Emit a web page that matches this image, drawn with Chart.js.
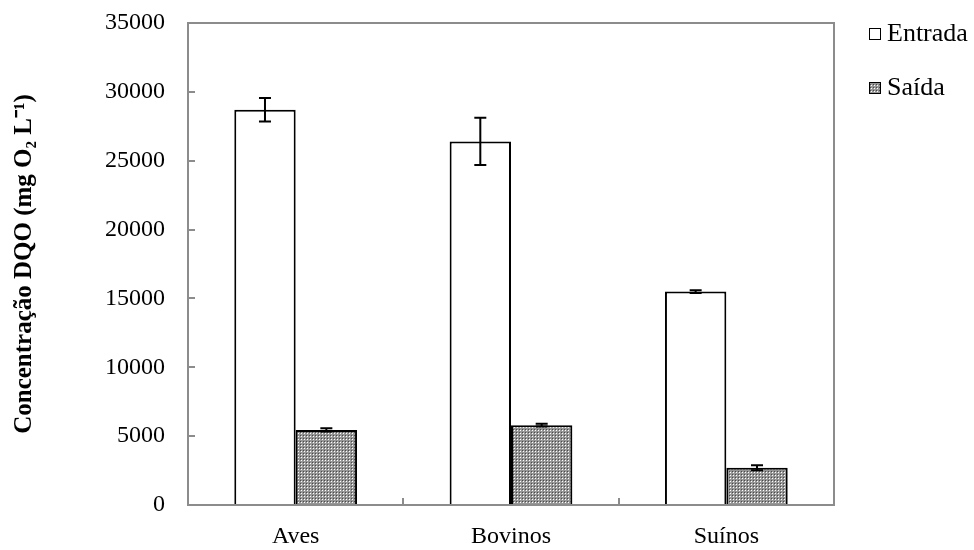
<!DOCTYPE html>
<html>
<head>
    <title>Concentração DQO</title>
    <script src="https://cdn.jsdelivr.net/npm/chart.js"></script>
    <style>
        body {
            margin: 0;
            background: #ffffff;
        }
        .chart-box {
            width: 974px;
            height: 550px;
        }
    </style>
</head>
<body>

<div class="chart-box">
    <canvas id="dqoChart" width="974" height="550"></canvas>
</div>

<script>
// data
const categories = ['Aves', 'Bovinos', 'Suínos'];
const seriesNames = ['Entrada', 'Saída'];
const entrada = [28700, 26400, 15500];
const entradaErr = [850, 1720, 100];
const saida = [5450, 5800, 2700];
const saidaErr = [120, 100, 180];
const yTicks = [0, 5000, 10000, 15000, 20000, 25000, 30000, 35000];

const serif = "'Liberation Serif', 'Times New Roman', serif";
const axisGray = '#8c8c8c';

// small dotted grey tile for the "Saída" bars
function makePattern() {
    const c = document.createElement('canvas');
    c.width = 3;
    c.height = 3;
    const g = c.getContext('2d');
    g.fillStyle = '#969696';
    g.fillRect(0, 0, 3, 3);
    g.fillStyle = '#ffffff';
    g.fillRect(1, 1, 1, 1);
    g.fillStyle = '#4a4a4a';
    g.fillRect(0, 0, 1, 1);
    return g.createPattern(c, 'repeat');
}
const dotted = makePattern();

// grey frame around the plot area
const frame = {
    id: 'frame',
    afterDraw(chart) {
        const a = chart.chartArea;
        const ctx = chart.ctx;
        ctx.save();
        ctx.strokeStyle = axisGray;
        ctx.lineWidth = 2;
        ctx.strokeRect(a.left, a.top, a.right - a.left, a.bottom - a.top);
        ctx.restore();
    }
};

// error bars, placed through the y scale
const errorBars = {
    id: 'errorBars',
    afterDatasetsDraw(chart) {
        const ctx = chart.ctx;
        const y = chart.scales.y;
        ctx.save();
        ctx.strokeStyle = '#000000';
        ctx.lineWidth = 2;
        chart.data.datasets.forEach((ds, i) => {
            const meta = chart.getDatasetMeta(i);
            meta.data.forEach((bar, j) => {
                const v = ds.data[j];
                const e = ds.errors[j];
                const top = y.getPixelForValue(v + e);
                const bot = y.getPixelForValue(v - e);
                ctx.beginPath();
                ctx.moveTo(bar.x, top);
                ctx.lineTo(bar.x, bot);
                ctx.moveTo(bar.x - 6, top);
                ctx.lineTo(bar.x + 6, top);
                ctx.moveTo(bar.x - 6, bot);
                ctx.lineTo(bar.x + 6, bot);
                ctx.stroke();
            });
        });
        ctx.restore();
    }
};

// legend on the right, outside the plot
const sideLegend = {
    id: 'sideLegend',
    afterDraw(chart) {
        const ctx = chart.ctx;
        ctx.save();
        ctx.font = '26px ' + serif;
        ctx.textBaseline = 'middle';
        chart.data.datasets.forEach((ds, i) => {
            const cy = 34 + i * 54;
            ctx.fillStyle = ds.backgroundColor;
            ctx.fillRect(869, cy - 6, 12, 12);
            ctx.strokeStyle = '#000000';
            ctx.lineWidth = 1;
            ctx.strokeRect(869.5, cy - 5.5, 11, 11);
            ctx.fillStyle = '#000000';
            ctx.fillText(ds.label, 887, cy);
        });
        ctx.restore();
    }
};

const ctx = document.getElementById('dqoChart');
new Chart(ctx, {
    type: 'bar',
    data: {
        labels: categories,
        datasets: [{
            label: seriesNames[0],
            data: entrada,
            errors: entradaErr,
            backgroundColor: '#ffffff',
            borderColor: '#000000',
            borderWidth: 2
        }, {
            label: seriesNames[1],
            data: saida,
            errors: saidaErr,
            backgroundColor: dotted,
            borderColor: '#000000',
            borderWidth: 2
        }]
    },
    options: {
        responsive: false,
        animation: false,
        devicePixelRatio: 1,
        layout: {
            padding: { top: 23, right: 140, left: 0, bottom: 0 }
        },
        datasets: {
            bar: {
                categoryPercentage: 0.57,
                barPercentage: 1.0
            }
        },
        plugins: {
            legend: { display: false },
            tooltip: { enabled: false }
        },
        scales: {
            x: {
                grid: {
                    drawOnChartArea: false,
                    color: axisGray,
                    lineWidth: 2,
                    tickLength: -7
                },
                border: { color: axisGray, width: 2 },
                ticks: {
                    color: '#000000',
                    padding: 24,
                    font: { family: serif, size: 24 }
                },
                afterFit(scale) { scale.height = 45; }
            },
            y: {
                min: 0,
                max: 35000,
                afterBuildTicks(scale) {
                    scale.ticks = yTicks.map(v => ({ value: v }));
                },
                grid: {
                    drawOnChartArea: false,
                    color: axisGray,
                    lineWidth: 2,
                    tickLength: -7
                },
                border: { color: axisGray, width: 2 },
                ticks: {
                    color: '#000000',
                    padding: 30,
                    font: { family: serif, size: 24 },
                    callback: v => String(v)
                },
                title: {
                    display: true,
                    text: 'Concentração DQO (mg O₂ L⁻¹)',
                    color: '#000000',
                    padding: 10,
                    font: { family: serif, size: 25, weight: 'bold' }
                },
                afterFit(scale) {
                    scale.width = 188;
                    scale.paddingTop = 0;
                    scale.paddingBottom = 0;
                }
            }
        }
    },
    plugins: [frame, errorBars, sideLegend]
});
</script>

</body>
</html>
